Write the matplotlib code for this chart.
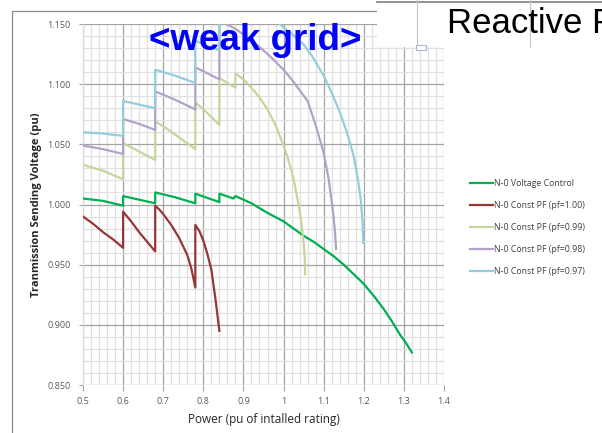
import matplotlib
matplotlib.use("Agg")
import matplotlib.pyplot as plt
from matplotlib.ticker import MultipleLocator, FixedLocator, FixedFormatter
from matplotlib.patches import Rectangle
from matplotlib.lines import Line2D

# ---- data -------------------------------------------------------------
labels = [
    "N-0 Voltage Control",
    "N-0 Const PF (pf=1.00)",
    "N-0 Const PF (pf=0.99)",
    "N-0 Const PF (pf=0.98)",
    "N-0 Const PF (pf=0.97)",
]

vc_x = [0.50, 0.55, 0.60, 0.60, 0.64, 0.68, 0.68, 0.73, 0.78, 0.78, 0.84, 0.84,
        0.875, 0.88, 0.90, 0.92, 0.94, 0.96, 0.98, 1.00, 1.025, 1.05, 1.075, 1.10,
        1.125, 1.15, 1.175, 1.20, 1.225, 1.25, 1.27, 1.29, 1.305, 1.32]
vc_y = [1.005, 1.003, 0.999, 1.007, 1.004, 1.001, 1.010, 1.006, 1.001, 1.009, 1.002, 1.009,
        1.005, 1.007, 1.004, 1.001, 0.997, 0.993, 0.9895, 0.986, 0.980, 0.974, 0.969, 0.963,
        0.957, 0.950, 0.942, 0.934, 0.924, 0.913, 0.903, 0.892, 0.885, 0.877]

pf100_x = [0.50, 0.525, 0.55, 0.575, 0.60, 0.60, 0.62, 0.64, 0.66, 0.68, 0.68, 0.69, 0.70,
           0.72, 0.74, 0.76, 0.77, 0.78, 0.78, 0.79, 0.80, 0.81, 0.82, 0.83, 0.84]
pf100_y = [0.990, 0.984, 0.977, 0.971, 0.964, 0.994, 0.986, 0.977, 0.969, 0.961, 0.999, 0.996,
           0.992, 0.983, 0.972, 0.958, 0.947, 0.931, 0.983, 0.978, 0.970, 0.959, 0.946, 0.922,
           0.895]

pf099_x = [0.50, 0.55, 0.60, 0.60, 0.64, 0.68, 0.68, 0.705, 0.73, 0.755, 0.78, 0.78, 0.81,
           0.84, 0.84, 0.88, 0.88, 0.90, 0.92, 0.94, 0.96, 0.98, 1.00, 1.01, 1.02, 1.03,
           1.04, 1.045, 1.05, 1.053, 1.054]
pf099_y = [1.033, 1.028, 1.021, 1.051, 1.044, 1.037, 1.069, 1.064, 1.058, 1.052, 1.046, 1.085,
           1.076, 1.066, 1.105, 1.097, 1.109, 1.104, 1.097, 1.089, 1.079, 1.066, 1.049, 1.039,
           1.028, 1.013, 0.995, 0.983, 0.968, 0.955, 0.942]

pf098_x = [0.50, 0.55, 0.60, 0.60, 0.64, 0.68, 0.68, 0.73, 0.78, 0.78, 0.81, 0.84, 0.84,
           0.88, 0.91, 0.94, 0.97, 1.00, 1.02, 1.04, 1.06, 1.08, 1.10, 1.113, 1.124, 1.128,
           1.131]
pf098_y = [1.049, 1.046, 1.042, 1.071, 1.067, 1.062, 1.094, 1.087, 1.079, 1.114, 1.109, 1.104,
           1.153, 1.146, 1.139, 1.131, 1.122, 1.112, 1.104, 1.095, 1.086, 1.066, 1.043, 1.020,
           0.992, 0.978, 0.963]

pf097_x = [0.50, 0.55, 0.60, 0.60, 0.64, 0.68, 0.68, 0.73, 0.78, 0.78, 0.84, 0.84,
           0.88, 0.88, 0.94, 0.99, 1.02, 1.05, 1.07, 1.10, 1.12, 1.14, 1.16, 1.175, 1.185,
           1.192, 1.196, 1.199]
pf097_y = [1.060, 1.059, 1.057, 1.086, 1.083, 1.080, 1.112, 1.107, 1.101, 1.136, 1.128, 1.170,
           1.163, 1.180, 1.168, 1.150, 1.142, 1.133, 1.124, 1.107, 1.093, 1.077, 1.058, 1.040,
           1.022, 1.005, 0.990, 0.968]

x_ticks = [0.5, 0.6, 0.7, 0.8, 0.9, 1.0, 1.1, 1.2, 1.3, 1.4]
x_tick_labels = ["0.5", "0.6", "0.7", "0.8", "0.9", "1", "1.1", "1.2", "1.3", "1.4"]
y_ticks = [0.85, 0.90, 0.95, 1.00, 1.05, 1.10, 1.15]
y_tick_labels = ["0.850", "0.900", "0.950", "1.000", "1.050", "1.100", "1.150"]

colors = ["#00b050", "#953735", "#c3d69b", "#b3a2c7", "#93cddd"]

# ---- figure -------------------------------------------------------------
W, H = 602, 433
plt.rcParams["font.family"] = ["Open Sans", "DejaVu Sans"]
fig = plt.figure(figsize=(W / 100, H / 100), dpi=100)
fig.patch.set_facecolor("white")

ax = fig.add_axes([83 / W, 1 - 385 / H, (444 - 83) / W, (385 - 24) / H])

series = [(vc_x, vc_y), (pf100_x, pf100_y), (pf099_x, pf099_y),
          (pf098_x, pf098_y), (pf097_x, pf097_y)]
for (xs, ys), c, lab in zip(series, colors, labels):
    ax.plot(xs, ys, color=c, lw=1.6, label=lab)

ax.set_xlim(0.5, 1.4)
ax.set_ylim(0.85, 1.15)
ax.xaxis.set_major_locator(FixedLocator(x_ticks))
ax.xaxis.set_major_formatter(FixedFormatter(x_tick_labels))
ax.yaxis.set_major_locator(FixedLocator(y_ticks))
ax.yaxis.set_major_formatter(FixedFormatter(y_tick_labels))
ax.xaxis.set_minor_locator(MultipleLocator(0.02))
ax.yaxis.set_minor_locator(MultipleLocator(0.01))

ax.set_axisbelow(True)
ax.grid(which="minor", color="#e0e0e0", lw=0.9)
ax.grid(which="major", color="#a3a3a3", lw=0.9)
for side in ["top", "right", "bottom"]:
    ax.spines[side].set_visible(False)
ax.spines["left"].set_color("#d9d9d9")
ax.spines["left"].set_zorder(0.6)

ax.tick_params(which="major", length=4, width=0.8, color="#a3a3a3",
               labelsize=6.5, labelcolor="#595959")
ax.tick_params(axis="x", which="major", pad=5)
ax.tick_params(axis="y", which="major", pad=6, length=3)
ax.tick_params(which="minor", length=0)

ax.set_xlabel("Power (pu of intalled rating)", fontsize=8.5, color="#262626", labelpad=5)
ax.set_ylabel("Tranmission Sending Voltage (pu)", fontsize=8, fontweight="bold",
              color="#262626", labelpad=4)

leg = ax.legend(loc="upper left", bbox_to_anchor=(470 / W, 1 - 179 / H),
                bbox_transform=fig.transFigure, frameon=False, fontsize=6.3,
                handlelength=2.6, handletextpad=0.15, labelspacing=1.48,
                borderpad=0, borderaxespad=0)
for t in leg.get_texts():
    t.set_color("#404040")
for h in leg.legend_handles:
    h.set_linewidth(1.6)

# outer chart frame
fig.add_artist(Rectangle((12 / W, -0.05), 1.0, 1 - 11 / H + 0.05,
                         transform=fig.transFigure, fill=False,
                         edgecolor="#8c8c8c", lw=0.9, zorder=3))

# slide title box in the upper right
fig.add_artist(Rectangle((377 / W, 1 - 47 / H), (W - 377) / W + 0.01, 47 / H + 0.01,
                         transform=fig.transFigure, facecolor="white",
                         edgecolor="none", zorder=5))
fig.add_artist(Line2D([377 / W, 1], [1 - 2 / H, 1 - 2 / H], transform=fig.transFigure,
                      color="#808080", lw=1.2, zorder=6))
for vx in (417, 530):
    fig.add_artist(Line2D([vx / W, vx / W], [1 - 47 / H, 1], transform=fig.transFigure,
                          color="#c8c8c8", lw=0.9, zorder=6))
fig.add_artist(Rectangle((416 / W, 1 - 50 / H), 10 / W, 5 / H, transform=fig.transFigure,
                         facecolor="white", edgecolor="#a9b8c8", lw=0.8, zorder=6))
fig.text(447 / W, 1 - 33 / H, "Reactive P", fontsize=25, color="black",
         family="Liberation Sans", ha="left", va="baseline", zorder=7)

fig.text(149 / W, 1 - 50 / H, "<weak grid>", fontsize=26.5, color="#0000ff",
         family="Liberation Sans", fontweight="bold", ha="left", va="baseline", zorder=7)

fig.savefig("out.png", dpi=100, facecolor="white")
